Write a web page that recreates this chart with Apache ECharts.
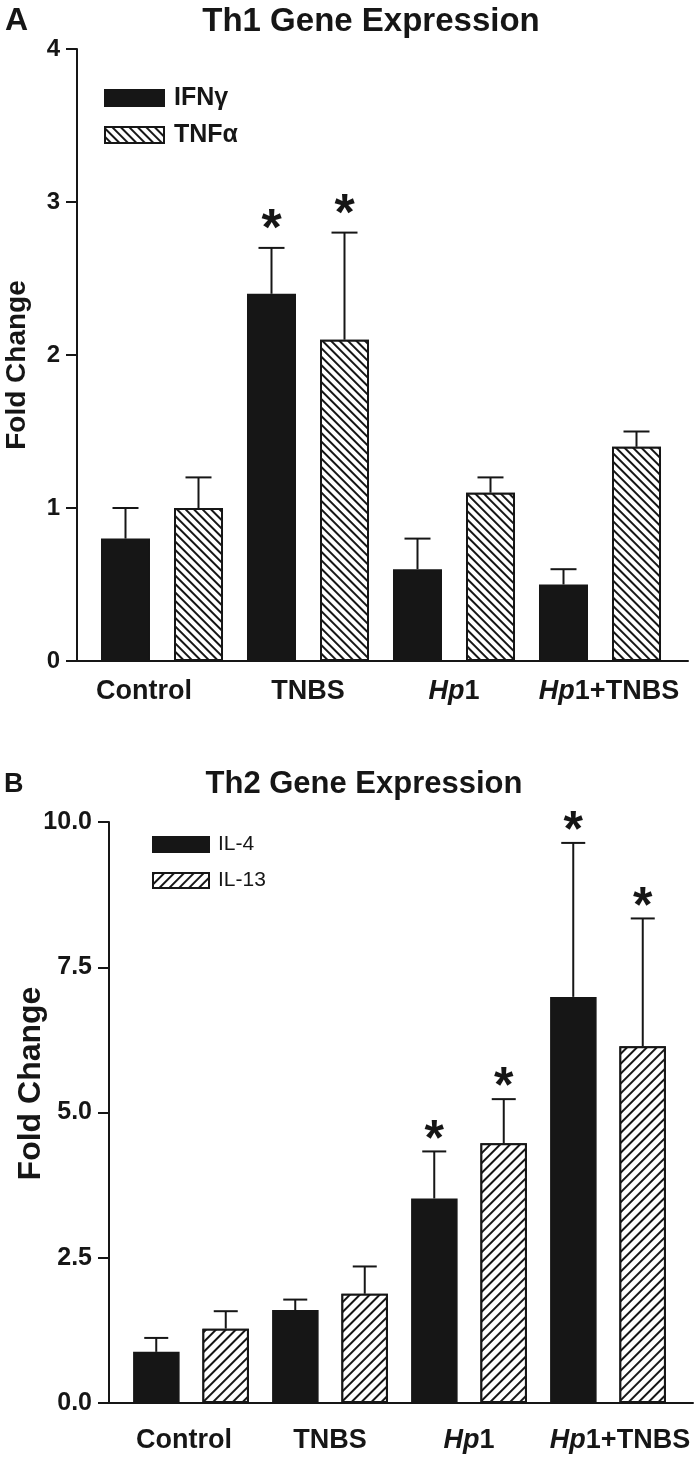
<!DOCTYPE html>
<html>
<head>
<meta charset="utf-8">
<script src="https://cdn.jsdelivr.net/npm/echarts@6/dist/echarts.min.js"></script>
<style>
html,body{margin:0;padding:0;background:#fff;}
#chart{width:700px;height:1457px;}
</style>
</head>
<body>
<div id="chart"></div>
<script>
// ---- data ----
const categories = ['Control', 'TNBS', 'Hp1', 'Hp1+TNBS'];
// Panel A: Th1 gene expression
const ifnG = [0.8, 2.4, 0.6, 0.5];
const ifnGErrTop = [1.0, 2.7, 0.8, 0.6];
const ifnGSig = [0, 1, 0, 0];
const tnfA = [1.0, 2.1, 1.1, 1.4];
const tnfAErrTop = [1.2, 2.8, 1.2, 1.5];
const tnfASig = [0, 1, 0, 0];
const yTicksA = [0, 1, 2, 3, 4];
// Panel B: Th2 gene expression
const il4 = [0.88, 1.60, 3.52, 6.99];
const il4ErrTop = [1.12, 1.78, 4.33, 9.64];
const il4Sig = [0, 0, 1, 1];
const il13 = [1.28, 1.88, 4.47, 6.14];
const il13ErrTop = [1.58, 2.35, 5.23, 8.34];
const il13Sig = [0, 0, 1, 1];
const yTicksB = [0, 2.5, 5, 7.5, 10];

const FONT = 'Liberation Sans, Arial, Helvetica, sans-serif';
const INK = '#161616';

function catLabel(v) {
  if (v.indexOf('Hp') === 0) return '{i|Hp}{b|' + v.slice(2) + '}';
  return '{b|' + v + '}';
}

// horizontal nudges (px) of the category labels, as in the reference layout
function makeCatLabel(shifts, margin) {
  const rich = {
    b: { fontSize: 27, fontWeight: 'bold', color: INK, fontFamily: FONT },
    i: { fontSize: 27, fontWeight: 'bold', fontStyle: 'italic', color: INK, fontFamily: FONT }
  };
  shifts.forEach((s, k) => { rich['s' + k] = { width: Math.abs(2 * s), fontSize: 27 }; });
  return {
    margin: margin, rich: rich, interval: 0, hideOverlap: false,
    formatter: function (v, idx) {
      const core = catLabel(v);
      const s = shifts[idx];
      if (!s) return core;
      const sp = '{s' + idx + '| }';
      return s > 0 ? sp + core : core + sp;
    }
  };
}

function errSeries(name, vals, tops, sig, xi, yi, offset, capW, starFont, starLift) {
  return {
    type: 'custom', name: name + '-err', xAxisIndex: xi, yAxisIndex: yi, z: 5,
    silent: true,
    data: vals.map((v, i) => [i, v, tops[i], sig[i]]),
    encode: { x: 0, y: [1, 2] },
    renderItem: function (params, api) {
      const b = api.coord([api.value(0), api.value(1)]);
      const t = api.coord([api.value(0), api.value(2)]);
      const x = b[0] + offset;
      const st = { stroke: INK, lineWidth: 2 };
      const ch = [
        { type: 'line', shape: { x1: x, y1: b[1], x2: x, y2: t[1] }, style: st },
        { type: 'line', shape: { x1: x - capW / 2, y1: t[1], x2: x + capW / 2, y2: t[1] }, style: st }
      ];
      if (api.value(3)) {
        ch.push({ type: 'text', style: { text: '*', x: x, y: t[1] - starLift, align: 'center', verticalAlign: 'middle',
          font: 'bold ' + starFont + 'px ' + FONT, fill: INK } });
      }
      return { type: 'group', children: ch };
    }
  };
}

const hatchA = { symbol: 'rect', symbolSize: 1, color: INK, backgroundColor: '#fff',
  dashArrayX: [1, 0], dashArrayY: [1.4, 3.6], rotation: Math.PI / 4 };
const hatchB = { symbol: 'rect', symbolSize: 1, color: INK, backgroundColor: '#fff',
  dashArrayX: [1, 0], dashArrayY: [1.4, 5], rotation: -Math.PI / 4 };

const chart = echarts.init(document.getElementById('chart'), null, { renderer: 'canvas' });

const yAxisCommon = {
  type: 'value', offset: 12,
  axisLine: { show: true, lineStyle: { color: INK, width: 2 } },
  axisTick: { show: true, length: 11, lineStyle: { color: INK, width: 2 } },
  splitLine: { show: false },
  nameLocation: 'middle', nameRotate: 90, nameMoveOverlap: false
};

const gridCommon = { containLabel: false, outerBoundsMode: 'none' };

const option = {
  animation: false,
  backgroundColor: '#fff',
  textStyle: { fontFamily: FONT },
  title: [
    { text: 'A', left: 0, top: 0, textStyle: { fontSize: 32, fontWeight: 'bold', color: INK, fontFamily: FONT } },
    { text: 'Th1 Gene Expression', left: 366, top: 0, textAlign: 'center', textStyle: { fontSize: 33, fontWeight: 'bold', color: INK, fontFamily: FONT } },
    { text: 'B', left: -1, top: 766, textStyle: { fontSize: 27, fontWeight: 'bold', color: INK, fontFamily: FONT } },
    { text: 'Th2 Gene Expression', left: 359, top: 764, textAlign: 'center', textStyle: { fontSize: 31, fontWeight: 'bold', color: INK, fontFamily: FONT } }
  ],
  legend: [
    { orient: 'vertical', left: 104, top: 85.5, padding: 0, itemWidth: 59, itemHeight: 16, itemGap: 12, icon: 'rect',
      data: ['IFNγ', 'TNFα'], textStyle: { fontSize: 25, fontWeight: 'bold', color: INK, padding: [0, 0, 0, 5] } },
    { orient: 'vertical', left: 152, top: 834, padding: 0, itemWidth: 56, itemHeight: 15, itemGap: 15, icon: 'rect',
      data: ['IL-4', 'IL-13'], textStyle: { fontSize: 21, color: INK, padding: [0, 0, 0, 4] } }
  ],
  grid: [
    Object.assign({ left: 89, right: 27, top: 49, bottom: 796 }, gridCommon),
    Object.assign({ left: 121.5, right: 22.5, top: 822, bottom: 54 }, gridCommon),
    Object.assign({ left: 77, right: 12, top: 49, bottom: 796 }, gridCommon),
    Object.assign({ left: 109, right: 7, top: 822, bottom: 54 }, gridCommon)
  ],
  xAxis: [
    { type: 'category', gridIndex: 0, data: categories, axisLine: { show: false }, axisTick: { show: false },
      axisLabel: makeCatLabel([-18, 0, 0, 9], 17) },
    { type: 'category', gridIndex: 1, data: categories, axisLine: { show: false }, axisTick: { show: false },
      axisLabel: makeCatLabel([-7, 0, 0, 12], 24) },
    { type: 'value', gridIndex: 2, min: 0, max: 1, axisLine: { show: true, onZero: false, lineStyle: { color: INK, width: 2 } },
      axisTick: { show: false }, axisLabel: { show: false }, splitLine: { show: false } },
    { type: 'value', gridIndex: 3, min: 0, max: 1, axisLine: { show: true, onZero: false, lineStyle: { color: INK, width: 2 } },
      axisTick: { show: false }, axisLabel: { show: false }, splitLine: { show: false } }
  ],
  yAxis: [
    Object.assign({}, yAxisCommon, { gridIndex: 0, min: yTicksA[0], max: yTicksA[yTicksA.length - 1], interval: yTicksA[1] - yTicksA[0],
      name: 'Fold Change', nameGap: 46,
      nameTextStyle: { fontSize: 28, fontWeight: 'bold', color: INK, fontFamily: FONT, padding: [0, 20, 0, 0] },
      axisLabel: { margin: 17, fontSize: 24, fontWeight: 'bold', color: INK, fontFamily: FONT } }),
    Object.assign({}, yAxisCommon, { gridIndex: 1, offset: 12.5, min: yTicksB[0], max: yTicksB[yTicksB.length - 1], interval: yTicksB[1] - yTicksB[0],
      name: 'Fold Change', nameGap: 62,
      nameTextStyle: { fontSize: 32, fontWeight: 'bold', color: INK, fontFamily: FONT, padding: [0, 0, 0, 58] },
      axisLabel: { margin: 17, fontSize: 25, fontWeight: 'bold', color: INK, fontFamily: FONT, formatter: v => v.toFixed(1) } }),
    { type: 'value', gridIndex: 2, show: false, min: 0, max: 1 },
    { type: 'value', gridIndex: 3, show: false, min: 0, max: 1 }
  ],
  series: [
    { type: 'bar', name: 'IFNγ', xAxisIndex: 0, yAxisIndex: 0, data: ifnG, barWidth: 49, barGap: '49%',
      itemStyle: { color: INK, borderColor: INK, borderWidth: 1.5 } },
    { type: 'bar', name: 'TNFα', xAxisIndex: 0, yAxisIndex: 0, data: tnfA, barWidth: 49, barGap: '49%',
      itemStyle: { color: '#fff', borderColor: INK, borderWidth: 2, decal: hatchA } },
    { type: 'bar', name: 'IL-4', xAxisIndex: 1, yAxisIndex: 1, data: il4, barWidth: 46.5, barGap: '49%',
      itemStyle: { color: INK, borderColor: INK, borderWidth: 1.5 } },
    { type: 'bar', name: 'IL-13', xAxisIndex: 1, yAxisIndex: 1, data: il13, barWidth: 46.5, barGap: '49%',
      itemStyle: { color: '#fff', borderColor: INK, borderWidth: 2, decal: hatchB } },
    errSeries('IFNγ', ifnG, ifnGErrTop, ifnGSig, 0, 0, -36.5, 26, 52, 17),
    errSeries('TNFα', tnfA, tnfAErrTop, tnfASig, 0, 0, 36.5, 26, 52, 17),
    errSeries('IL-4', il4, il4ErrTop, il4Sig, 1, 1, -34.75, 24, 50, 10.5),
    errSeries('IL-13', il13, il13ErrTop, il13Sig, 1, 1, 34.75, 24, 50, 10.5)
  ]
};
chart.setOption(option);
</script>
</body>
</html>
